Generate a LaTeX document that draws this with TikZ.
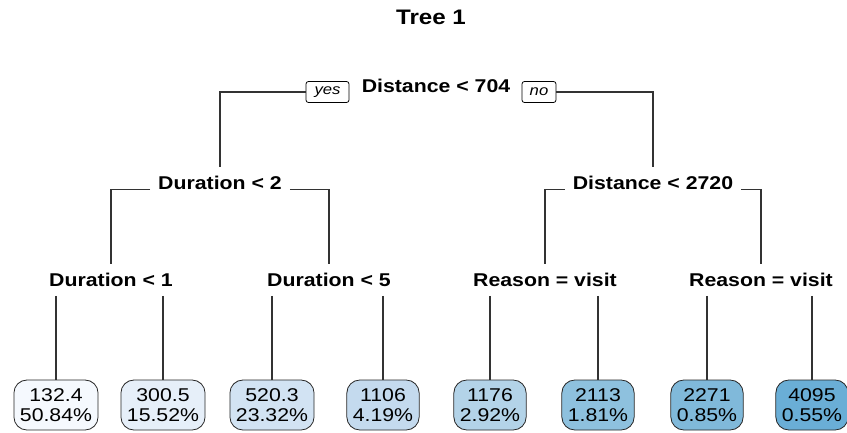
\documentclass[tikz,border=0pt]{standalone}
\usepackage{fontspec}
\setmainfont{Liberation Sans}[FakeStretch=1.15]

% leaf fill shades, light to dark
\definecolor{lf1}{HTML}{F5F9FE}
\definecolor{lf2}{HTML}{E6EFF9}
\definecolor{lf3}{HTML}{D2E3F3}
\definecolor{lf4}{HTML}{C4DAEE}
\definecolor{lf5}{HTML}{B3D3E8}
\definecolor{lf6}{HTML}{8EC1DE}
\definecolor{lf7}{HTML}{80B9DA}
\definecolor{lf8}{HTML}{6AAED6}
\definecolor{edgegray}{HTML}{333333}

\tikzset{
  split/.style={font=\bfseries\fontsize{18.5}{20}\selectfont, inner xsep=8pt, inner ysep=9pt},
  tagbox/.style={draw=black, line width=0.8pt, rounded corners=2.5pt, inner sep=0pt,
    minimum height=21pt, font=\itshape\fontsize{14.5}{16}\selectfont},
  leafbox/.style={draw=black!85, line width=0.8pt, rounded corners=13pt, align=center,
    inner xsep=6pt, inner ysep=0pt, minimum height=50pt,
    font=\fontsize{18.5}{20.5}\selectfont},
  branch/.style={draw=edgegray, line width=1.1pt}
}

\begin{document}
\begin{tikzpicture}[x=1pt,y=-1pt]
\useasboundingbox (0,0) rectangle (847,432);

\node[font=\bfseries\fontsize{21}{24}\selectfont] (title) at (431,17) {Tree 1};

% split labels
\node[split] (root) at (436,86) {Distance < 704};
\node[tagbox, minimum width=43pt] (yes) at (327.5,92) {yes};
\node[tagbox, minimum width=34pt] (no) at (539,92) {no};

\node[split] (d2) at (220,183) {Duration < 2};
\node[split] (t2) at (653,183) {Distance < 2720};

\node[split] (d1) at (111,280) {Duration < 1};
\node[split] (d5) at (329,280) {Duration < 5};
\node[split] (rv1) at (545,280) {Reason = visit};
\node[split] (rv2) at (761,280) {Reason = visit};

% leaves
\node[leafbox, fill=lf1] (l1) at (56,405) {132.4\\50.84\%};
\node[leafbox, fill=lf2] (l2) at (163,405) {300.5\\15.52\%};
\node[leafbox, fill=lf3] (l3) at (272,405) {520.3\\23.32\%};
\node[leafbox, fill=lf4] (l4) at (383,405) {1106\\4.19\%};
\node[leafbox, fill=lf5] (l5) at (490,405) {1176\\2.92\%};
\node[leafbox, fill=lf6] (l6) at (598,405) {2113\\1.81\%};
\node[leafbox, fill=lf7] (l7) at (707,405) {2271\\0.85\%};
\node[leafbox, fill=lf8] (l8) at (812,405) {4095\\0.55\%};

% branches from the root
\draw[branch] (yes.west) -| (d2.north);
\draw[branch] (no.east) -| (t2.north);

% second level branches
\draw[branch] (d2.base west) -| (d1.north);
\draw[branch] (d2.base east) -| (d5.north);
\draw[branch] (t2.base west) -| (rv1.north);
\draw[branch] (t2.base east) -| (rv2.north);

% drops to the leaves
\foreach \s/\a/\b in {d1/l1/l2, d5/l3/l4, rv1/l5/l6, rv2/l7/l8}{
  \draw[branch] (\a.north |- \s.south) -- (\a.north);
  \draw[branch] (\b.north |- \s.south) -- (\b.north);
}
\end{tikzpicture}
\end{document}
